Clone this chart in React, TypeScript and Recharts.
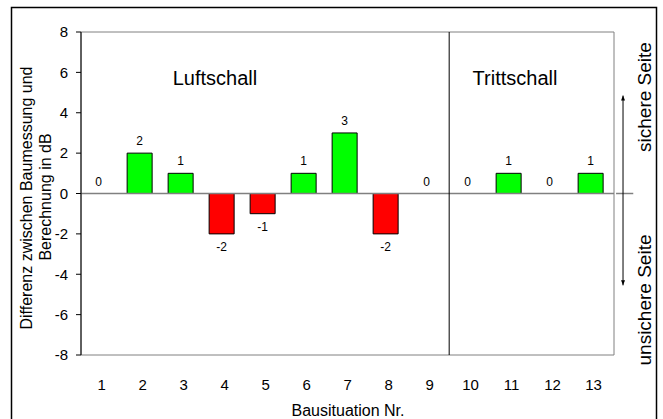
import {
  ComposedChart,
  Bar,
  Line,
  Cell,
  XAxis,
  YAxis,
  ReferenceLine,
  ReferenceArea,
  LabelList,
  Customized,
} from "recharts";

const situations = [1, 2, 3, 4, 5, 6, 7, 8, 9, 10, 11, 12, 13];
const differences = [0, 2, 1, -2, -1, 1, 3, -2, 0, 0, 1, 0, 1];
const yTicks = [-8, -6, -4, -2, 0, 2, 4, 6, 8];

const data = situations.map((nr, i) => ({ nr, diff: differences[i] }));

const font = "'Liberation Sans', Arial, sans-serif";

// bars sit a few px left of the category labels, like the original
const xLo = 0.57;
const xHi = 13.57;

// label above the bar end for >= 0, below it for negative values
const ValueLabel = (props: any) => {
  const { x, y, value } = props;
  if (x == null || y == null) return null;
  return (
    <text
      x={x}
      y={value < 0 ? y + 17 : y - 8}
      textAnchor="middle"
      fontSize={12}
      fontFamily={font}
      fill="#000"
    >
      {value}
    </text>
  );
};

const ArrowShape = (props: any) => {
  const { x1, y1, x2, y2 } = props;
  if (x1 == null) return null;
  const top = Math.min(y1, y2);
  const bot = Math.max(y1, y2);
  return (
    <g>
      <line x1={x1} y1={top} x2={x2} y2={bot} stroke="#000" strokeWidth={1} />
      <path d={`M${x1 - 2},${top + 5} L${x1},${top} L${x1 + 2},${top + 5} Z`} fill="#000" />
      <path d={`M${x1 - 2},${bot - 5} L${x1},${bot} L${x1 + 2},${bot - 5} Z`} fill="#000" />
    </g>
  );
};

const Annotations = () => (
  <g fontFamily={font} fill="#000">
    <rect x={11.5} y={7.5} width={645} height={420} fill="none" stroke="#000" strokeWidth={1.5} />
    <text x={215} y={85} textAnchor="middle" fontSize={20}>Luftschall</text>
    <text x={515} y={85} textAnchor="middle" fontSize={20}>Trittschall</text>
    <text transform="translate(32,198) rotate(-90)" textAnchor="middle" fontSize={16}>
      Differenz zwischen Baumessung und
    </text>
    <text transform="translate(51,197) rotate(-90)" textAnchor="middle" fontSize={16}>
      Berechnung in dB
    </text>
    <text x={348} y={416} textAnchor="middle" fontSize={16}>Bausituation Nr.</text>
    <text transform="translate(651,97) rotate(-90)" textAnchor="middle" fontSize={19}>
      sichere Seite
    </text>
    <text transform="translate(651,300) rotate(-90)" textAnchor="middle" fontSize={19}>
      unsichere Seite
    </text>
  </g>
);

export default function App() {
  return (
    <div style={{ position: "absolute", left: 0, top: 0, background: "#fff" }}>
      <ComposedChart
        width={663}
        height={419}
        data={data}
        margin={{ top: 32, right: 49, bottom: 0, left: 0 }}
      >
        <ReferenceArea
          x1={xLo}
          x2={xHi}
          y1={-8}
          y2={8}
          fill="none"
          stroke="#808080"
          strokeWidth={1}
          ifOverflow="visible"
        />
        <XAxis
          dataKey="nr"
          type="number"
          domain={[xLo, xHi]}
          ticks={situations}
          interval={0}
          axisLine={false}
          tickLine={false}
          tickMargin={18}
          height={64}
          tick={{ fontSize: 15, fontFamily: font, fill: "#000", dx: 3 }}
        />
        <YAxis
          domain={[-8, 8]}
          ticks={yTicks}
          interval={0}
          width={81}
          axisLine={{ stroke: "#000" }}
          tickLine={{ stroke: "#000" }}
          tickSize={5}
          tickMargin={8}
          tick={{ fontSize: 15, fontFamily: font, fill: "#000" }}
        />
        <ReferenceLine y={0} stroke="#808080" strokeWidth={1.5} />
        <ReferenceLine
          segment={[{ x: 13.62, y: 0 }, { x: 14.04, y: 0 }]}
          stroke="#808080"
          strokeWidth={1.5}
          ifOverflow="visible"
        />
        <ReferenceLine x={9.55} stroke="#000" strokeWidth={1} />
        <ReferenceLine
          segment={[{ x: 13.79, y: 4.85 }, { x: 13.79, y: -4.55 }]}
          ifOverflow="visible"
          shape={ArrowShape}
        />
        <Bar dataKey="diff" barSize={25} stroke="#000" strokeWidth={1} isAnimationActive={false}>
          {data.map((d) => (
            <Cell key={d.nr} fill={d.diff < 0 ? "#ff0000" : "#00ff00"} />
          ))}
        </Bar>
        <Line
          dataKey="diff"
          stroke="none"
          dot={false}
          activeDot={false}
          isAnimationActive={false}
        >
          <LabelList dataKey="diff" content={ValueLabel} />
        </Line>
        <Customized component={Annotations} />
      </ComposedChart>
    </div>
  );
}
